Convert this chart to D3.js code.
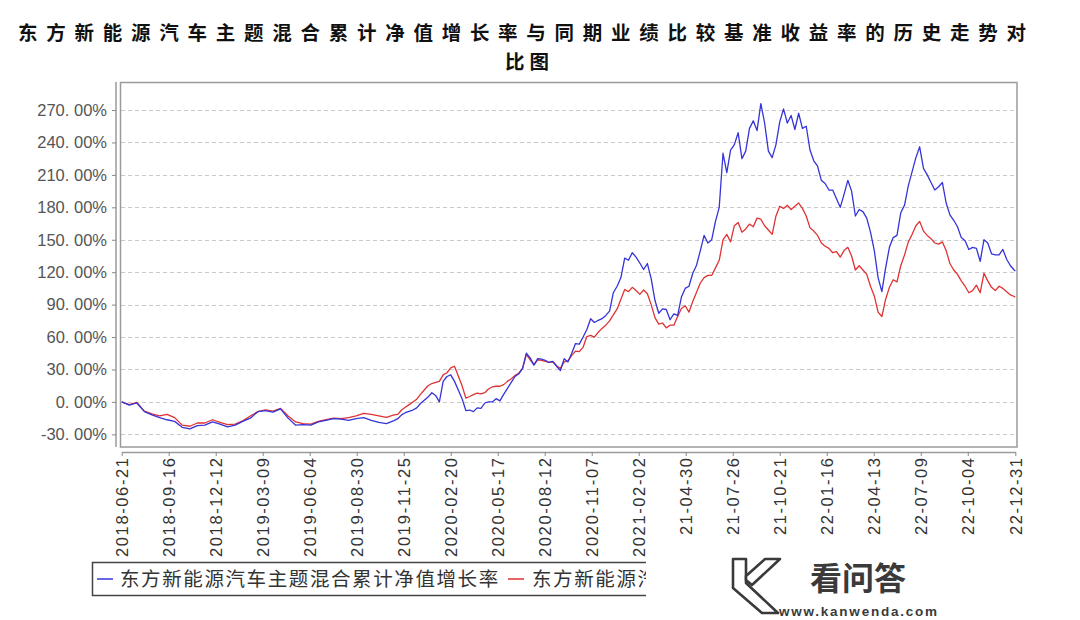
<!DOCTYPE html>
<html><head><meta charset="utf-8">
<script src="https://cdn.jsdelivr.net/npm/d3@7"></script>
<style>body{margin:0;background:#fff}svg{display:block}</style>
</head><body>
<svg id="c" width="1080" height="620"></svg>
<script>
const titleLine1 = "东方新能源汽车主题混合累计净值增长率与同期业绩比较基准收益率的历史走势对";
const titleLine2 = "比图";
// the second legend entry is cut off in the reference after "东方新能源汽"
const seriesNames = ["东方新能源汽车主题混合累计净值增长率", "东方新能源汽"];
const startDate = "2018-06-21";
// day offsets from startDate
const days = [
0,14,28,42,56,70,84,98,112,126,140,154,168,182,196,210,224,238,252,266,280,294,308,322,336,350,364,378,392,406,420,434,448,462,476,490,504,
511,518,525,532,539,546,553,560,567,574,
581,588,595,602,609,616,623,630,637,644,
651,658,665,672,679,686,693,700,707,714,
721,728,735,742,749,756,763,770,777,784,
791,798,805,812,819,826,833,840,847,854,
861,868,875,882,889,896,903,910,917,924,
931,938,945,952,959,966,973,980,987,994,
1001,1008,1015,1022,1029,1036,1043,1050,1057,1064,
1071,1078,1085,1092,1099,1106,1113,1120,1127,1134,
1141,1148,1155,1162,1169,1176,1183,1190,1197,1204,
1211,1218,1225,1232,1239,1246,1253,1260,1267,1274,
1281,1288,1295,1302,1309,1316,1323,1330,1337,1344,
1351,1358,1365,1372,1379,1386,1393,1400,1407,1414,
1421,1428,1435,1442,1449,1456,1463,1470,1477,1484,
1491,1498,1505,1512,1519,1526,1533,1540,1547,1554,
1561,1568,1575,1582,1589,1596,1603,1610,1617,1624,
1631,1638,1645,1652,1654];
// fund cumulative NAV growth (%)
const fundGrowth = [
0,-3,-1,-9,-12,-14.5,-16.5,-18,-23.5,-25,-22,-21.5,-18.5,-20.5,-23,-21.5,-18,-15,-9,-8,-9.5,-6.5,-15,-21.5,-21,-21.5,-18.5,-17,-15.5,-16,-17,-15.5,-14.5,-17,-19,-20,-17.3,
-15.5,-12,-10,-8.7,-7.5,-5.5,-1.5,1.5,4.5,8.5,
6,0,19,23.5,25,19,11,3,-8,-7.5,
-9,-5.5,-6,-1,0,0,3,1,7,12.5,
18,23.5,26,31,45,40.7,34,40,39.5,38.5,
36.5,37.5,33,29,40,37,45,54,53.5,60,
67,77,73.5,75.5,77,80,84,101,107,115,
133,131,138,134,128.5,122.5,128,114,94,82,
86,85.5,76,81.5,80,97,105,107,119,126.5,
140,154,147,150,167,180,230,212,233,238,
249,225,232,253,260,251,276,258,232,226,
238,259,271,258,265,252,267,253,255,233,
223,218,205,202,196,196,188,180,192,205,
195,172,178,176,170,157,140,115,102,124,
143,152,154,175,182,200,213,226,236,216,
210,203,196,199,203,184,173,168,162,152,
149,141,143,142,130,150,147,137,136,136,
141,132,126,122,121];
// benchmark return (%)
const benchmark = [
0,-2.5,-0.5,-8.5,-11,-13,-11.5,-14.5,-21.5,-22.5,-19.5,-19.5,-16.5,-19,-21,-20.5,-17.5,-13,-9,-7.3,-8.5,-6,-13,-18.5,-20,-20.5,-18,-16.3,-15,-15.5,-14.5,-13,-10.5,-11.5,-13,-14.4,-12,
-11.5,-7.5,-5,-2.5,0,2.5,7,11,15,17,
18,19,25,27,31.5,33,24,15,3.5,5,
6.8,8.2,7.5,8.5,12,14,14.5,14.5,16,19,
21.5,24.5,26.5,31,44,39,34.5,39,38.5,37.5,
36.5,37,33.5,31,37,38,43,47,46.5,50.5,
60.5,61.5,60,64.5,68,71,75,80.5,86,95,
104,102,106,103,99.5,103.5,100,90,78,72,
73,68.5,71,71,79,86.5,89,83,93,101.5,
110,115,117,117,124,131,150,155,148,163,
166,157,160,164.5,162,170,169,163,159,155,
172,181,179,182,178,181,184,179,172,161,
158,154,147,144,142,138,139,134,140,143,
135,122,126,122,118,107,98,83,79,95,
106,113,111,126,136,148,155,163,167,158,
154,151,147,146,148,140,128,122,118,112,
107,101,103,108,101,119,112,106,103,107,
105,102,99,97.5,97];
const yTicks = [-30,0,30,60,90,120,150,180,210,240,270];
const yTickLabels = ["-30. 00%","0. 00%","30. 00%","60. 00%","90. 00%","120. 00%","150. 00%","180. 00%","210. 00%","240. 00%","270. 00%"];
const xTickDates = ["2018-06-21","2018-09-16","2018-12-12","2019-03-09","2019-06-04","2019-08-30","2019-11-25","2020-02-20","2020-05-17","2020-08-12","2020-11-07","2021-02-02","2021-04-30","2021-07-26","2021-10-21","2022-01-16","2022-04-13","2022-07-09","2022-10-04","2022-12-31"];
const xTickLabels = ["2018-06-21","2018-09-16","2018-12-12","2019-03-09","2019-06-04","2019-08-30","2019-11-25","2020-02-20","2020-05-17","2020-08-12","2020-11-07","2021-02-02","21-04-30","21-07-26","21-10-21","22-01-16","22-04-13","22-07-09","22-10-04","22-12-31"];
const colors = ["#3434d8", "#e03232"];

const svg = d3.select("#c");
const parse = d3.utcParse("%Y-%m-%d");
const t0 = parse(startDate);
const plot = {l:120.5, t:82.5, r:1017, b:447};

const x = d3.scaleUtc().domain([parse(xTickDates[0]), parse(xTickDates[xTickDates.length-1])]).range([121.7, 1015.3]);
const y = d3.scaleLinear().domain([-41.7, 295]).range([447, 83]);

if (days.length !== fundGrowth.length || days.length !== benchmark.length) {
  svg.append("text").attr("x",300).attr("y",300).attr("fill","red").text(`len mismatch ${days.length} ${fundGrowth.length} ${benchmark.length}`);
}

// title
const tfont = "'Noto Sans CJK SC', sans-serif";
svg.append("text").attr("x",522).attr("y",40).attr("text-anchor","middle")
  .attr("font-family",tfont).attr("font-weight","bold").attr("font-size",19.5).attr("fill","#111")
  .attr("textLength",1008).attr("lengthAdjust","spacing").text(titleLine1);
svg.append("text").attr("x",527).attr("y",69).attr("text-anchor","middle")
  .attr("font-family",tfont).attr("font-weight","bold").attr("font-size",19.5).attr("fill","#111")
  .attr("textLength",44).attr("lengthAdjust","spacing").text(titleLine2);

// grid
svg.append("g").selectAll("line").data(yTicks).join("line")
  .attr("x1",121).attr("x2",1016).attr("y1",d=>Math.round(y(d))+0.5).attr("y2",d=>Math.round(y(d))+0.5)
  .attr("stroke","#c9c9c9").attr("stroke-dasharray","4,3").attr("stroke-width",1);

// frame
svg.append("rect").attr("x",plot.l).attr("y",plot.t).attr("width",plot.r-plot.l).attr("height",plot.b-plot.t)
  .attr("fill","none").attr("stroke","#9a9a9a").attr("stroke-width",1.5);

// y axis
const ya = svg.append("g").attr("transform","translate(116,0)")
  .call(d3.axisLeft(y).tickValues(yTicks).tickFormat((d,i)=>yTickLabels[i]).tickSize(4).tickSizeOuter(0).tickPadding(5));
ya.select(".domain").attr("stroke","#9a9a9a").attr("stroke-width",1.5).attr("d","M0,82V447");
ya.selectAll(".tick line").attr("stroke","#888");
ya.selectAll("text").attr("font-family","'Liberation Sans', Arial, sans-serif").attr("font-size",16.5).attr("fill","#555");

// x axis
const xa = svg.append("g").attr("transform","translate(0,452)")
  .call(d3.axisBottom(x).tickValues(xTickDates.map(parse)).tickFormat((d,i)=>xTickLabels[i]).tickSize(4).tickSizeOuter(0).tickPadding(2));
xa.select(".domain").attr("stroke","#9a9a9a").attr("stroke-width",1.5);
xa.selectAll(".tick line").attr("stroke","#888");
xa.selectAll("text").attr("font-family","'Liberation Sans', Arial, sans-serif").attr("font-size",16.5).attr("fill","#333")
  .attr("transform","rotate(-90)").attr("text-anchor","end").attr("x",-6).attr("y",0).attr("dy","0.35em")
  .attr("textLength",(d,i)=>xTickLabels[i].length>8?99:77).attr("lengthAdjust","spacing");

// lines
svg.append("clipPath").attr("id","pc").append("rect").attr("x",121).attr("y",83).attr("width",895).attr("height",363);
const pts = s => days.map((d,i)=>[d3.utcDay.offset(t0,d), s[i]]);
const line = d3.line().x(d=>x(d[0])).y(d=>y(d[1]));
const lg = svg.append("g").attr("clip-path","url(#pc)");
lg.append("path").attr("d",line(pts(benchmark))).attr("fill","none").attr("stroke",colors[1]).attr("stroke-width",1.3).attr("stroke-linejoin","round");
lg.append("path").attr("d",line(pts(fundGrowth))).attr("fill","none").attr("stroke",colors[0]).attr("stroke-width",1.3).attr("stroke-linejoin","round");

// legend (cut at right)
svg.append("clipPath").attr("id","lc").append("rect").attr("x",85).attr("y",555).attr("width",561).attr("height",50);
const leg = svg.append("g").attr("clip-path","url(#lc)");
leg.append("rect").attr("x",92.5).attr("y",562.5).attr("width",600).attr("height",33).attr("fill","#fff").attr("stroke","#444").attr("stroke-width",1.5);
const legX = [[97,120],[508,532]];
seriesNames.forEach((n,i)=>{
  leg.append("line").attr("x1",legX[i][0]).attr("x2",legX[i][0]+16).attr("y1",579).attr("y2",579).attr("stroke",colors[i]).attr("stroke-width",1.5);
  leg.append("text").attr("x",legX[i][1]).attr("y",586).attr("font-family",tfont).attr("font-size",19.5).attr("fill","#333")
    .attr("letter-spacing",1.6).text(n);
});

// watermark
const wm = svg.append("g").attr("fill","#fff").attr("stroke","#3a3a3a").attr("stroke-width",2.6).attr("stroke-linejoin","round");
wm.append("path").attr("d","M733,559 L746,559 L746,583 L778,613 L762,613 L733,588 Z");
wm.append("path").attr("d","M765,559 L780,559 L752,585 L746,580 L746,576 Z");
svg.append("text").attr("x",858).attr("y",590).attr("text-anchor","middle").attr("font-family",tfont).attr("font-weight","bold")
  .attr("font-size",32).attr("fill","#3a3a3a").text("看问答");
svg.append("text").attr("x",858).attr("y",616).attr("text-anchor","middle").attr("font-family","'Liberation Sans', Arial, sans-serif").attr("font-weight","bold")
  .attr("font-size",13.5).attr("fill","#3a3a3a").attr("textLength",158).attr("lengthAdjust","spacing").text("www.kanwenda.com");
</script>
</body></html>
